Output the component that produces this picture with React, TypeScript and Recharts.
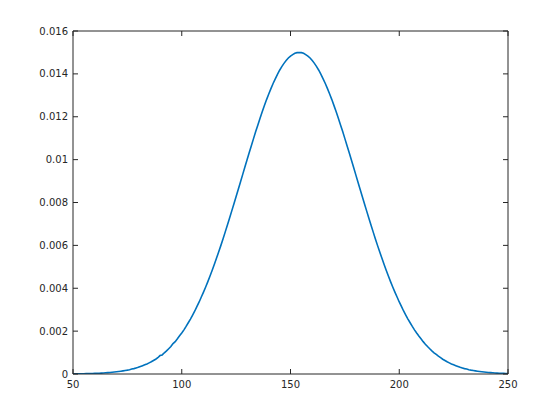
import React from 'react';
import { LineChart, Line, XAxis, YAxis } from 'recharts';

const xStart = 50;
const densityValues: number[] = [
  0.000007, 0.000008, 0.00001, 0.000011, 0.000013, 0.000015, 0.000017, 0.000019, 0.000022, 0.000025,
  0.000029, 0.000033, 0.000038, 0.000043, 0.000049, 0.000056, 0.000063, 0.000071, 0.000081, 0.000091,
  0.000102, 0.000115, 0.00013, 0.000146, 0.000163, 0.00018, 0.0002, 0.00023, 0.00025, 0.00028,
  0.00031, 0.00035, 0.00039, 0.00043, 0.00047, 0.00052, 0.00057, 0.00063, 0.00069, 0.00076,
  0.00086, 0.00089, 0.00099, 0.00108, 0.00118, 0.00128, 0.00142, 0.00151, 0.00164, 0.00178,
  0.00191, 0.00206, 0.00222, 0.00239, 0.00256, 0.00275, 0.00294, 0.00315, 0.00336, 0.00359,
  0.00382, 0.00406, 0.00431, 0.00457, 0.00484, 0.00512, 0.00541, 0.0057, 0.006, 0.00631,
  0.00663, 0.00695, 0.00728, 0.00761, 0.00794, 0.00828, 0.00862, 0.00896, 0.0093, 0.00964,
  0.00998, 0.01032, 0.01065, 0.01098, 0.01131, 0.01162, 0.01193, 0.01223, 0.01252, 0.0128,
  0.01306, 0.01331, 0.01355, 0.01377, 0.01398, 0.01417, 0.01434, 0.01449, 0.01462, 0.01474,
  0.01483, 0.0149, 0.01496, 0.01499, 0.015,
  0.01499, 0.01496, 0.0149, 0.01483, 0.01474, 0.01462, 0.01449, 0.01434, 0.01417, 0.01398,
  0.01377, 0.01355, 0.01331, 0.01306, 0.0128, 0.01252, 0.01223, 0.01193, 0.01162, 0.01131,
  0.01098, 0.01065, 0.01032, 0.00998, 0.00964, 0.0093, 0.00896, 0.00862, 0.00828, 0.00794,
  0.00761, 0.00728, 0.00695, 0.00663, 0.00631, 0.006, 0.0057, 0.00541, 0.00512, 0.00484,
  0.00457, 0.00431, 0.00406, 0.00382, 0.00359, 0.00336, 0.00315, 0.00294, 0.00275, 0.00256,
  0.00239, 0.00222, 0.00206, 0.00191, 0.00177, 0.00164, 0.00151, 0.00139, 0.00128, 0.00118,
  0.00108, 0.00099, 0.00091, 0.00083, 0.00076, 0.00069, 0.00063, 0.00057, 0.00052, 0.00047,
  0.00043, 0.00039, 0.00035, 0.00031, 0.00028, 0.00025, 0.00023, 0.0002, 0.00018, 0.000163,
  0.000146, 0.00013, 0.000115, 0.000102, 0.000091, 0.000081, 0.000071, 0.000063, 0.000056, 0.000049,
  0.000043, 0.000038, 0.000033, 0.000029, 0.000025, 0.000022,
];

const xTicks = [50, 100, 150, 200, 250];
const yTicks = [0, 0.002, 0.004, 0.006, 0.008, 0.01, 0.012, 0.014, 0.016];

const data = densityValues.map((v, i) => ({ x: xStart + i, y: v }));

const AX = '#262626';
const FONT = 'DejaVu Sans';

const BottomTick = (p: any) => (
  <g>
    <line x1={p.x} y1={p.y} x2={p.x} y2={p.y - 5} stroke={AX} strokeWidth={1} />
    <text x={p.x} y={p.y + 14} textAnchor="middle" fill={AX} fontSize={10} fontFamily={FONT}>
      {String(p.payload.value)}
    </text>
  </g>
);
const LeftTick = (p: any) => (
  <g>
    <line x1={p.x} y1={p.y} x2={p.x + 5} y2={p.y} stroke={AX} strokeWidth={1} />
    <text x={p.x - 5} y={p.y + 3.6} textAnchor="end" fill={AX} fontSize={10} fontFamily={FONT}>
      {String(p.payload.value)}
    </text>
  </g>
);
const TopTick = (p: any) => (
  <line x1={p.x} y1={p.y} x2={p.x} y2={p.y + 5} stroke={AX} strokeWidth={1} />
);
const RightTick = (p: any) => (
  <line x1={p.x} y1={p.y} x2={p.x - 5} y2={p.y} stroke={AX} strokeWidth={1} />
);

export default function App() {
  return (
    <div style={{ position: 'absolute', left: 0, top: 0, width: 560, height: 420, background: '#fff' }}>
      <LineChart width={560} height={420} data={data} margin={{ top: 30, right: 51, bottom: 16, left: 0 }}>
        <XAxis
          xAxisId="b"
          dataKey="x"
          type="number"
          domain={[50, 250]}
          ticks={xTicks}
          allowDataOverflow
          height={30}
          tickSize={0}
          tickMargin={0}
          tickLine={false}
          tick={BottomTick}
          axisLine={{ stroke: AX }}
          interval={0}
        />
        <XAxis
          xAxisId="t"
          orientation="top"
          dataKey="x"
          type="number"
          domain={[50, 250]}
          ticks={xTicks}
          allowDataOverflow
          height={1}
          tickSize={0}
          tickMargin={0}
          tickLine={false}
          tick={TopTick}
          axisLine={{ stroke: AX }}
          interval={0}
        />
        <YAxis
          yAxisId="l"
          type="number"
          domain={[0, 0.016]}
          ticks={yTicks}
          allowDataOverflow
          width={73}
          tickSize={0}
          tickMargin={0}
          tickLine={false}
          tick={LeftTick}
          axisLine={{ stroke: AX }}
          interval={0}
        />
        <YAxis
          yAxisId="r"
          orientation="right"
          type="number"
          domain={[0, 0.016]}
          ticks={yTicks}
          allowDataOverflow
          width={1}
          tickSize={0}
          tickMargin={0}
          tickLine={false}
          tick={RightTick}
          axisLine={{ stroke: AX }}
          interval={0}
        />
        <Line
          xAxisId="t"
          yAxisId="r"
          dataKey="y"
          stroke="none"
          dot={false}
          isAnimationActive={false}
        />
        <Line
          xAxisId="b"
          yAxisId="l"
          type="linear"
          dataKey="y"
          stroke="#0072BD"
          strokeWidth={1.6}
          dot={false}
          isAnimationActive={false}
        />
      </LineChart>
    </div>
  );
}
